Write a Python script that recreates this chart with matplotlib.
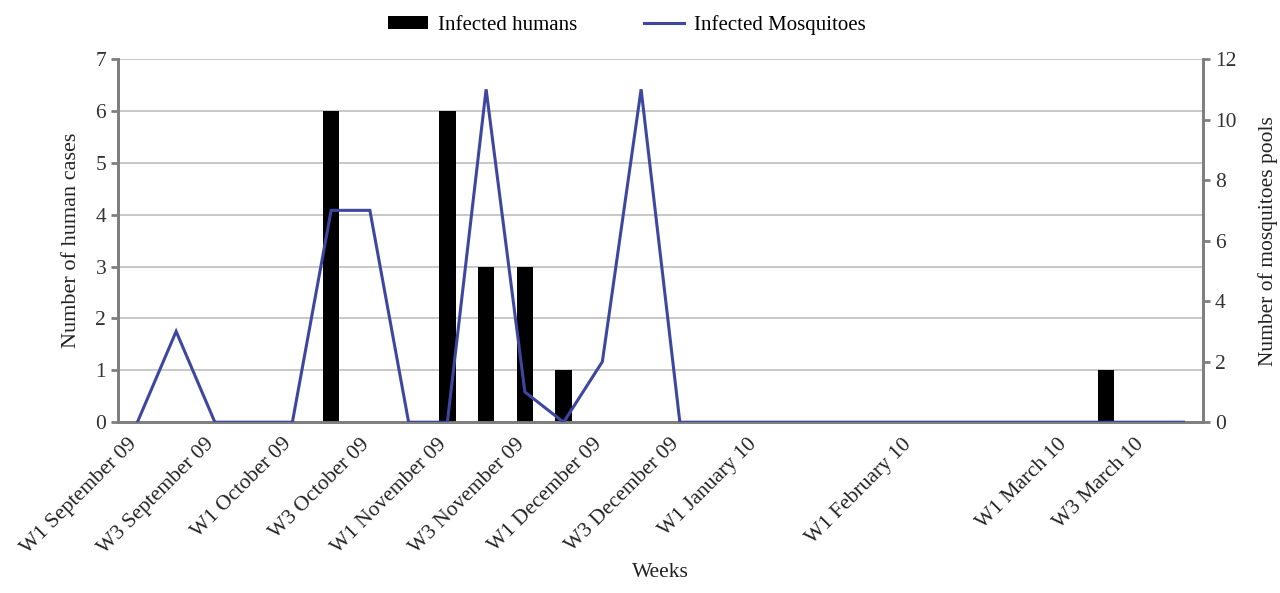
import numpy as np
import matplotlib
matplotlib.use("Agg")
import matplotlib.pyplot as plt
import matplotlib.transforms as mtransforms

plt.rcParams['font.family'] = ['Liberation Serif', 'DejaVu Serif']

# semanas de septiembre 09 a marzo 10 (4 por mes)
months = ['September 09', 'October 09', 'November 09', 'December 09',
          'January 10', 'February 10', 'March 10']
weeks = ['W%d %s' % (w, m) for m in months for w in range(1, 5)]

# casos humanos (eje izquierdo)
humans = [0, 0, 0, 0, 0, 6, 0, 0, 6, 3, 3, 1, 0, 0, 0, 0,
          0, 0, 0, 0, 0, 0, 0, 0, 0, 1, 0, 0]
# pools de mosquitos infectados (eje derecho)
mosquitoes = [0, 3, 0, 0, 0, 7, 7, 0, 0, 11, 1, 0, 2, 11, 0, 0,
              0, 0, 0, 0, 0, 0, 0, 0, 0, 0, 0, 0]

# etiquetas que aparecen en el eje
shown = ['W1 September 09', 'W3 September 09', 'W1 October 09', 'W3 October 09',
         'W1 November 09', 'W3 November 09', 'W1 December 09', 'W3 December 09',
         'W1 January 10', 'W1 February 10', 'W1 March 10', 'W3 March 10']

x = np.arange(len(weeks))
grey = '#7f7f7f'
blue = '#3d47a0'

fig = plt.figure(figsize=(12.8, 5.93), dpi=100)
ax1 = fig.add_axes([0.0922, 0.288, 0.8476, 0.6125])
ax2 = ax1.twinx()

ax1.bar(x, humans, width=0.42, color='black', zorder=3, label='Infected humans')
ax2.plot(x, mosquitoes, color=blue, lw=2.2, zorder=4, solid_joinstyle='miter',
         label='Infected Mosquitoes')

ax1.set_xlim(-0.5, len(weeks) - 0.5)
ax1.set_ylim(0, 7)
ax2.set_ylim(0, 12)
ax1.set_yticks(range(0, 8))
ax2.set_yticks(range(0, 13, 2))
ax1.yaxis.grid(True, color='#c4c4c4', lw=1.3, zorder=0)
ax1.set_axisbelow(True)

pos = [weeks.index(s) for s in shown]
ax1.set_xticks(pos)
ax1.set_xticklabels(shown, rotation=45, ha='right', rotation_mode='anchor')
ax1.tick_params(axis='x', length=0, pad=9, labelsize=15.5, colors='#222222')
# las etiquetas van un poco a la izquierda del tick
shift = mtransforms.ScaledTranslation(-10 / 100, 0, fig.dpi_scale_trans)
for lab in ax1.get_xticklabels():
    lab.set_transform(lab.get_transform() + shift)

ax1.tick_params(axis='y', length=5, width=2, color=grey, labelsize=15.5, labelcolor='#333333')
ax2.tick_params(axis='y', length=5, width=2, color=grey, labelsize=15.5, labelcolor='#333333')

for a in (ax1, ax2):
    a.spines['top'].set_visible(False)
    for s in ('left', 'right', 'bottom'):
        a.spines[s].set_color(grey)
        a.spines[s].set_linewidth(2)

ax1.set_ylabel('Number of human cases', fontsize=16, color='#222222', labelpad=10)
ax2.set_ylabel('Number of mosquitoes pools', fontsize=15.5, color='#222222', labelpad=16)
fig.text(0.516, 0.018, 'Weeks', ha='center', va='bottom', fontsize=15.5, color='#222222')

h1, l1 = ax1.get_legend_handles_labels()
h2, l2 = ax2.get_legend_handles_labels()
fig.legend(h1 + h2, l1 + l2, loc='upper center', bbox_to_anchor=(0.49, 1.007),
           ncol=2, frameon=False, fontsize=15, handlelength=1.9, handletextpad=0.5,
           columnspacing=3.2, handleheight=0.6)

plt.savefig('out.png', dpi=100)
